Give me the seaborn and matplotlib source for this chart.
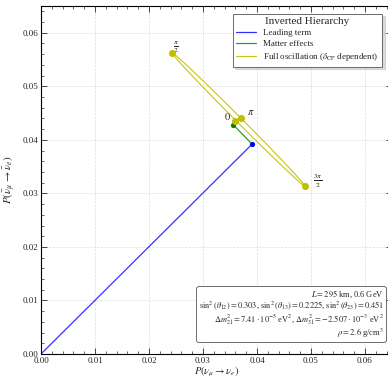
import numpy as np
import pandas as pd
import matplotlib
matplotlib.use("Agg")
import matplotlib.pyplot as plt
import seaborn as sns

# ---- data ----
leading_x = [0.0, 0.0391]
leading_y = [0.0, 0.0392]
matter_x = [0.0391, 0.0356]
matter_y = [0.0392, 0.0428]
delta_names = ["0", "pi/2", "pi", "3pi/2"]
delta_vals = [0.0, np.pi / 2, np.pi, 3 * np.pi / 2]
delta_x = [0.0360, 0.0243, 0.0370, 0.0489]
delta_y = [0.0436, 0.0563, 0.0440, 0.0314]
delta_tex = [r"$0$", r"$\frac{\pi}{2}$", r"$\pi$", r"$\frac{3\pi}{2}$"]

sns.set_theme(style="ticks")
plt.rcParams["font.family"] = ["Liberation Serif", "DejaVu Serif"]
plt.rcParams["mathtext.fontset"] = "stix"

fig = plt.figure(figsize=(3.88, 3.80), dpi=100)
ax = fig.add_axes([41 / 388, 26 / 380, 351 / 388, 348 / 380])

# ellipse through the four delta points (P = c + a cos d + b sin d)
cx = (delta_x[0] + delta_x[2] + delta_x[1] + delta_x[3]) / 4
cy = (delta_y[0] + delta_y[2] + delta_y[1] + delta_y[3]) / 4
ax_c = (delta_x[0] - delta_x[2]) / 2
bx_c = (delta_x[1] - delta_x[3]) / 2
ay_c = (delta_y[0] - delta_y[2]) / 2
by_c = (delta_y[1] - delta_y[3]) / 2
d = np.linspace(0, 2 * np.pi, 400)
ell = pd.DataFrame({"x": cx + ax_c * np.cos(d) + bx_c * np.sin(d),
                    "y": cy + ay_c * np.cos(d) + by_c * np.sin(d)})

blue = "#0000ff"
green = "#008000"
yellow = "#bfbf00"

sns.lineplot(x=leading_x, y=leading_y, sort=False, color=blue, lw=0.9,
             alpha=0.8, ax=ax, label="Leading term")
sns.lineplot(x=matter_x, y=matter_y, sort=False, color=green, lw=0.9,
             alpha=0.8, ax=ax, label="Matter effects")
sns.lineplot(data=ell, x="x", y="y", sort=False, color=yellow, lw=0.8,
             alpha=0.9, ax=ax, label=r"Full oscillation ($\delta_{\rm CP}$ dependent)")

ax.scatter([leading_x[1]], [leading_y[1]], s=14, color=blue, zorder=5, lw=0)
ax.scatter([matter_x[1]], [matter_y[1]], s=14, color=green, zorder=5, lw=0)
ax.scatter(delta_x, delta_y, s=26, color=yellow, zorder=5, lw=0)

offsets = [(-6, 3), (3, 4), (7, 4), (9, 3)]
for xx, yy, t, off in zip(delta_x, delta_y, delta_tex, offsets):
    ax.annotate(t, (xx, yy), xytext=off, textcoords="offset points",
                ha="center", va="center", fontsize=7.5)

ax.set_xlim(0, 0.065)
ax.set_ylim(0, 0.065)
ax.set_xticks(np.arange(0, 0.0651, 0.01))
ax.set_yticks(np.arange(0, 0.0651, 0.01))
ax.xaxis.set_major_formatter(matplotlib.ticker.FormatStrFormatter("%.2f"))
ax.yaxis.set_major_formatter(matplotlib.ticker.FormatStrFormatter("%.2f"))
ax.xaxis.set_minor_locator(matplotlib.ticker.AutoMinorLocator(5))
ax.yaxis.set_minor_locator(matplotlib.ticker.AutoMinorLocator(5))
ax.tick_params(which="both", direction="in", top=True, right=True, labelsize=6.5,
               pad=2)
ax.tick_params(which="major", length=4, width=0.6)
ax.tick_params(which="minor", length=2, width=0.5)
for s in ax.spines.values():
    s.set_linewidth(0.8)
    s.set_color("black")
ax.grid(True, ls="--", lw=0.5, color="#dddddd")
ax.set_axisbelow(True)

ax.set_xlabel(r"$P(\nu_\mu \to \nu_e)$", fontsize=7.5, labelpad=0)
ax.set_ylabel(r"$P(\bar{\nu}_\mu \to \bar{\nu}_e)$", fontsize=8, labelpad=3)

leg = ax.legend(title="Inverted Hierarchy", loc="upper right",
                bbox_to_anchor=((387 - 41) / 351, 1 - 3 / 348),
                fontsize=6.5, title_fontsize=8, frameon=True, fancybox=False,
                shadow={"alpha": 0.2}, edgecolor="#555555", handlelength=2.2,
                borderpad=0.4, labelspacing=0.3, framealpha=1)
leg.get_frame().set_linewidth(0.6)

txt = ("$L = 295$ km, 0.6 GeV\n"
       r"$\sin^2(\theta_{12}) = 0.303$, $\sin^2(\theta_{13}) = 0.2225$, $\sin^2(\theta_{23}) = 0.451$" "\n"
       r"$\Delta m^2_{21} = 7.41\cdot 10^{-5}$ eV$^2$, $\Delta m^2_{31} = -2.507\cdot 10^{-3}$ eV$^2$" "\n"
       r"$\rho = 2.6$ g/cm$^3$")
ax.text((384 - 41) / 351, (354 - 340) / 348, txt, transform=ax.transAxes,
        ha="right", va="bottom", fontsize=6.0, linespacing=1.0,
        bbox=dict(boxstyle="round,pad=0.3", fc="white", ec="#555555", lw=0.6))

fig.savefig("out.png", dpi=100)
